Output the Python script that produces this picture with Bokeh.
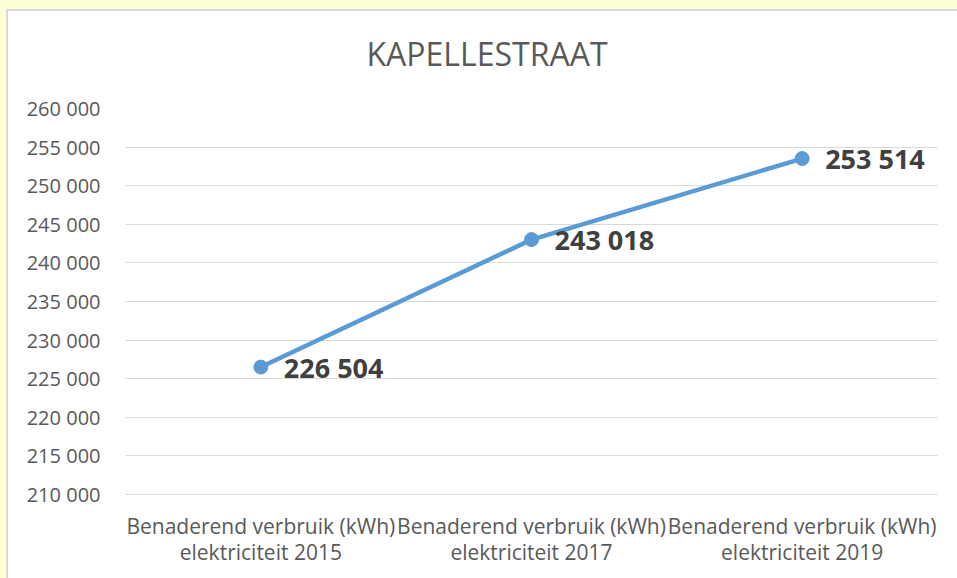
from bokeh.plotting import figure
from bokeh.models import Range1d, FixedTicker, ColumnDataSource, Column, Div
from bokeh.core.properties import value
from bokeh.embed import file_html
from bokeh.resources import INLINE

title_text = "KAPELLESTRAAT"
categories = [
    "Benaderend verbruik (kWh)\nelektriciteit 2015",
    "Benaderend verbruik (kWh)\nelektriciteit 2017",
    "Benaderend verbruik (kWh)\nelektriciteit 2019",
]
values = [226504, 243018, 253514]
y_ticks = [210000, 215000, 220000, 225000, 230000, 235000, 240000, 245000, 250000, 255000, 260000]
y_tick_labels = ["210 000", "215 000", "220 000", "225 000", "230 000", "235 000",
                 "240 000", "245 000", "250 000", "255 000", "260 000"]

xs = list(range(len(categories)))
labels = [f"{v:,}".replace(",", " ") for v in values]
src = ColumnDataSource(dict(x=xs, y=values, label=labels))

FONT = "Open Sans"
GRAY = "#595959"

title_div = Div(
    text=(f'<div style="font-family:\'Open Sans\';font-size:32px;color:{GRAY};'
          f'text-align:center;line-height:44px;padding-top:21px;margin-left:9px;'
          f'width:940px;white-space:nowrap">{title_text}</div>'),
    width=951, height=70, margin=0)

p = figure(width=951, height=499, output_backend="svg", toolbar_location=None,
           x_range=Range1d(-0.5, 2.5), y_range=Range1d(210000, 260000),
           min_border_left=117, min_border_right=22, min_border_top=27, min_border_bottom=86,
           margin=0)
p.outline_line_color = None
p.background_fill_color = "white"
p.border_fill_color = "white"

p.xgrid.grid_line_color = None
p.ygrid.grid_line_color = "#D9D9D9"
p.ygrid.grid_line_width = 1

p.yaxis.ticker = FixedTicker(ticks=y_ticks)
p.yaxis.major_label_overrides = {t: l for t, l in zip(y_ticks, y_tick_labels)}
p.yaxis.axis_line_color = None
p.yaxis.major_tick_line_color = None
p.yaxis.minor_tick_line_color = None
p.yaxis.major_label_standoff = 19
p.yaxis.major_label_text_font = FONT
p.yaxis.major_label_text_font_size = "20px"
p.yaxis.major_label_text_color = GRAY

p.xaxis.ticker = FixedTicker(ticks=xs)
p.xaxis.major_label_overrides = {x: c for x, c in zip(xs, categories)}
p.xaxis.axis_line_color = "#D9D9D9"
p.xaxis.major_tick_line_color = None
p.xaxis.minor_tick_line_color = None
p.xaxis.major_label_standoff = 11
p.xaxis.major_label_text_font = FONT
p.xaxis.major_label_text_font_size = "21px"
p.xaxis.major_label_text_color = GRAY
p.xaxis.major_label_text_line_height = 0.95

p.line("x", "y", source=src, line_color="#5B9BD5", line_width=4.5)
p.scatter("x", "y", source=src, size=14, fill_color="#5B9BD5", line_color="#5B9BD5")
p.text("x", "y", text="label", source=src, x_offset=23, y_offset=0,
       text_font=value(FONT), text_font_style="bold", text_font_size="27px",
       text_color="#404040", text_baseline="middle", text_align="left")

inner = Column(title_div, p, margin=(9, 0, 0, 6), spacing=0,
               styles={"background-color": "white",
                       "border-top": "2px solid #D9D9D9",
                       "border-left": "2px solid #D9D9D9"})
layout = Column(inner, styles={"background-color": "#FFFFD5"}, width=957, height=578)

open("out.html", "w").write(file_html(layout, INLINE))
